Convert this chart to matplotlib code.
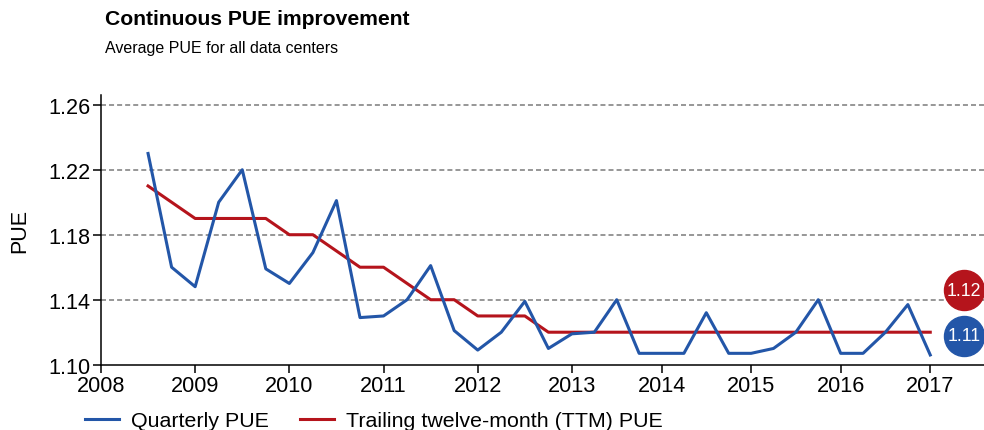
import numpy as np
import matplotlib
matplotlib.use("Agg")
import matplotlib.pyplot as plt
from matplotlib.transforms import offset_copy

plt.rcParams['font.family'] = ['Liberation Sans', 'DejaVu Sans']
plt.rcParams['lines.scale_dashes'] = False

# --- Data --- #
quarters = [2008.5, 2008.75, 2009.0, 2009.25, 2009.5, 2009.75,
            2010.0, 2010.25, 2010.5, 2010.75, 2011.0, 2011.25,
            2011.5, 2011.75, 2012.0, 2012.25, 2012.5, 2012.75,
            2013.0, 2013.25, 2013.5, 2013.75, 2014.0, 2014.25,
            2014.5, 2014.75, 2015.0, 2015.25, 2015.5, 2015.75,
            2016.0, 2016.25, 2016.5, 2016.75, 2017.0]

quarterly_pue = [1.23, 1.16, 1.148, 1.20, 1.22, 1.159,
                 1.15, 1.169, 1.201, 1.129, 1.13, 1.14,
                 1.161, 1.121, 1.109, 1.12, 1.139, 1.11,
                 1.119, 1.12, 1.14, 1.107, 1.107, 1.107,
                 1.132, 1.107, 1.107, 1.11, 1.12, 1.14,
                 1.107, 1.107, 1.12, 1.137, 1.106]

ttm_pue = [1.21, 1.20, 1.19, 1.19, 1.19, 1.19,
           1.18, 1.18, 1.17, 1.16, 1.16, 1.15,
           1.14, 1.14, 1.13, 1.13, 1.13, 1.12,
           1.12, 1.12, 1.12, 1.12, 1.12, 1.12,
           1.12, 1.12, 1.12, 1.12, 1.12, 1.12,
           1.12, 1.12, 1.12, 1.12, 1.12]

year_ticks = [2008, 2009, 2010, 2011, 2012, 2013, 2014, 2015, 2016, 2017]
pue_ticks = [1.10, 1.14, 1.18, 1.22, 1.26]

BLUE = '#2356a8'
RED = '#b5141c'


# later years are drawn slightly narrower than the early ones
def squeeze(x):
    x = np.asarray(x, dtype=float)
    return np.where(x < 2013, x, 2013 + (x - 2013) * 0.951)


def unsqueeze(x):
    x = np.asarray(x, dtype=float)
    return np.where(x < 2013, x, 2013 + (x - 2013) / 0.951)


fig = plt.figure(figsize=(9.84, 4.31), dpi=100)
ax = fig.add_axes([0.1026, 0.1515, 0.8974, 0.6258])
ax.set_xscale('function', functions=(squeeze, unsqueeze))

for y in pue_ticks[1:]:
    ax.axhline(y, color='#7a7a7a', lw=1.1, linestyle=(0, (3.6, 2.2)), zorder=1)

ax.plot(quarters, quarterly_pue, color=BLUE, lw=2.2, label='Quarterly PUE', zorder=3)
ax.plot(quarters, ttm_pue, color=RED, lw=2.2,
        label='Trailing twelve-month (TTM) PUE', zorder=2)

ax.set_xlim(2008, 2017.6)
ax.set_ylim(1.10, 1.266)
ax.set_xticks(year_ticks)
ax.set_xticklabels([str(y) for y in year_ticks])
ax.set_yticks(pue_ticks)
ax.set_yticklabels([f'{v:.2f}' for v in pue_ticks])
ax.xaxis.set_minor_locator(matplotlib.ticker.NullLocator())
ax.tick_params(axis='both', labelsize=15.6, length=5.5, width=1.1, pad=2, direction='out')

for side in ('top', 'right'):
    ax.spines[side].set_visible(False)
for side in ('left', 'bottom'):
    ax.spines[side].set_linewidth(1.1)

ax.set_ylabel('PUE', fontsize=15.5, labelpad=13)

# end-of-series value badges
badges = [(quarterly_pue, BLUE, 19), (ttm_pue, RED, 42)]
for values, colour, lift in badges:
    trans = offset_copy(ax.transData, fig=fig, x=34, y=lift, units='dots')
    ax.scatter([quarters[-1]], [values[-1]], s=830, color=colour,
               transform=trans, clip_on=False, zorder=5)
    ax.text(quarters[-1], values[-1], f'{values[-1]:.2f}', transform=trans,
            color='white', fontsize=12.8, ha='center', va='center',
            clip_on=False, zorder=6)

fig.text(0.1067, 0.9536, 'Continuous PUE improvement', fontsize=15.2,
         fontweight='bold', ha='left', va='center')
fig.text(0.1067, 0.888, 'Average PUE for all data centers', fontsize=11.5,
         ha='left', va='center')

fig.legend(loc='center left', bbox_to_anchor=(0.0864, 0.022), ncol=2,
           frameon=False, fontsize=15.4, handlelength=1.6, handletextpad=0.57,
           columnspacing=1.42, borderpad=0, borderaxespad=0)

fig.savefig('out.png', dpi=100)
